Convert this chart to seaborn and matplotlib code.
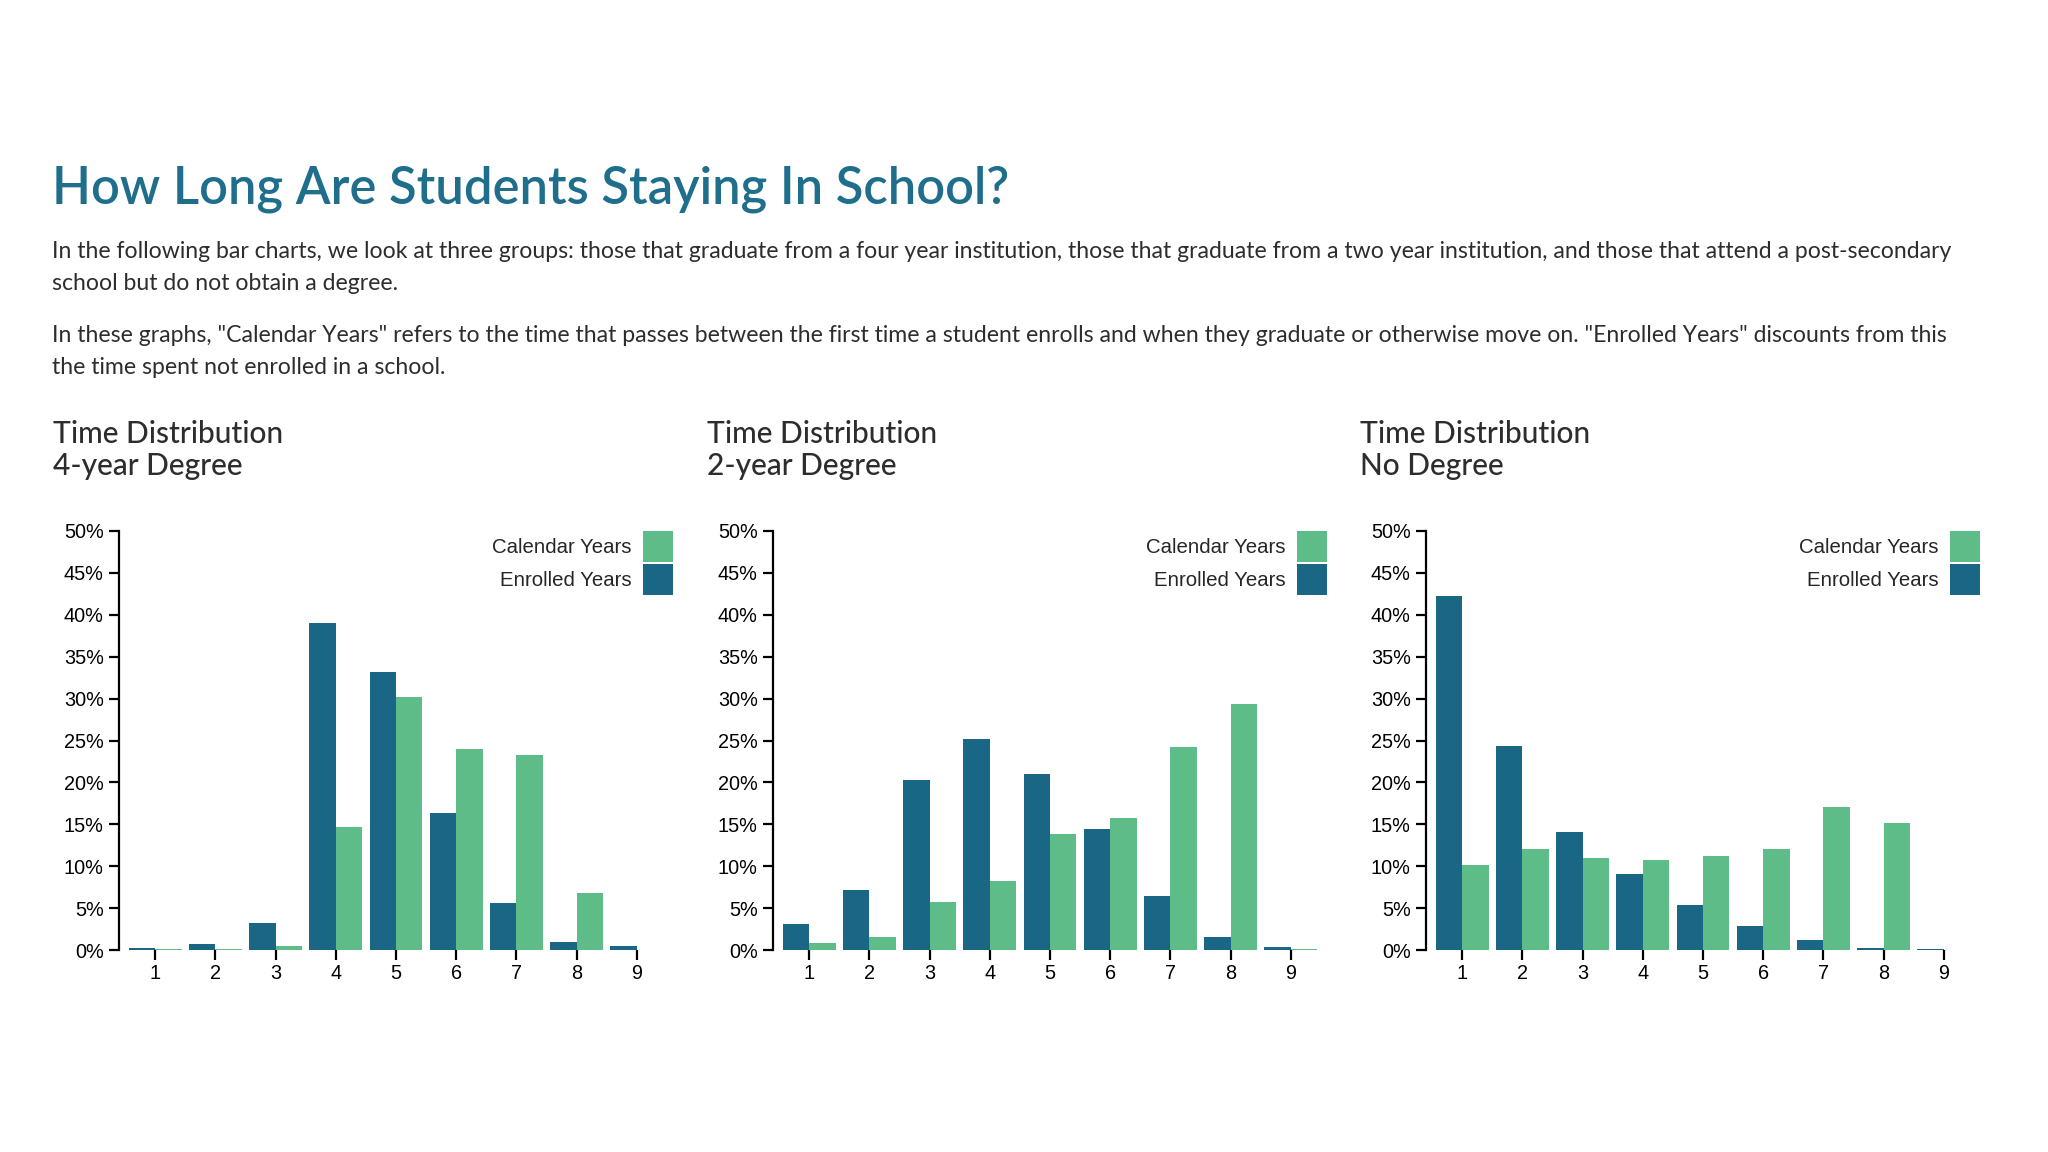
import matplotlib
matplotlib.use("Agg")
import matplotlib.pyplot as plt
from matplotlib.patches import Patch
import seaborn as sns
import pandas as pd

# ---------------- data ----------------
years = ["1", "2", "3", "4", "5", "6", "7", "8", "9"]
four_year_calendar = [0.1, 0.1, 0.5, 14.7, 30.2, 24.0, 23.3, 6.8, 0.0]
four_year_enrolled = [0.2, 0.7, 3.2, 39.0, 33.2, 16.4, 5.65, 0.9, 0.45]
two_year_calendar = [0.85, 1.55, 5.7, 8.2, 13.85, 15.7, 24.2, 29.4, 0.1]
two_year_enrolled = [3.1, 7.2, 20.3, 25.2, 21.05, 14.4, 6.5, 1.55, 0.3]
no_degree_calendar = [10.2, 12.1, 10.95, 10.75, 11.2, 12.1, 17.05, 15.1, 0.05]
no_degree_enrolled = [42.2, 24.3, 14.1, 9.1, 5.4, 2.9, 1.2, 0.25, 0.1]
chart_titles = ["Time Distribution\n4-year Degree",
                "Time Distribution\n2-year Degree",
                "Time Distribution\nNo Degree"]
series_names = ["Calendar Years", "Enrolled Years"]
y_ticks = [0, 5, 10, 15, 20, 25, 30, 35, 40, 45, 50]

title = "How Long Are Students Staying In School?"
para_lines = [
    "In the following bar charts, we look at three groups: those that graduate from a four year institution, those that graduate from a two year institution, and those that attend a post-secondary",
    "school but do not obtain a degree.",
    "In these graphs, \"Calendar Years\" refers to the time that passes between the first time a student enrolls and when they graduate or otherwise move on. \"Enrolled Years\" discounts from this",
    "the time spent not enrolled in a school.",
]

# ---------------- style ----------------
CAL_COLOR = "#5ebc89"
ENR_COLOR = "#1a6685"
TITLE_COLOR = "#1e6e8c"
TEXT_COLOR = "#2d2d2d"

sns.set_theme(style="white")
plt.rcParams["font.family"] = ["Liberation Sans", "DejaVu Sans"]

W, H = 2048, 1152
fig = plt.figure(figsize=(W / 100, H / 100), dpi=100, facecolor="white")

fig.text(52 / W, 1 - 189 / H, title, fontsize=36.5, color=TITLE_COLOR,
         family=["Lato", "DejaVu Sans"], fontweight="semibold",
         va="center", ha="left")
for y_px, line in zip([251, 284, 335, 367], para_lines):
    fig.text(52 / W, 1 - y_px / H, line, fontsize=16.6, color=TEXT_COLOR,
             family=["Lato", "DejaVu Sans"], va="center", ha="left")

datasets = [
    (four_year_calendar, four_year_enrolled),
    (two_year_calendar, two_year_enrolled),
    (no_degree_calendar, no_degree_enrolled),
]
lefts = [119, 773, 1426]
ax_w, ax_top, ax_bottom = 554, 531, 950

for left, (cal, enr), ctitle in zip(lefts, datasets, chart_titles):
    ax = fig.add_axes([left / W, 1 - ax_bottom / H, ax_w / W, (ax_bottom - ax_top) / H])
    df = pd.DataFrame({
        "year": years * 2,
        "pct": list(enr) + list(cal),
        "type": [series_names[1]] * len(years) + [series_names[0]] * len(years),
    })
    sns.barplot(data=df, x="year", y="pct", hue="type", order=years,
                hue_order=[series_names[1], series_names[0]],
                palette={series_names[0]: CAL_COLOR, series_names[1]: ENR_COLOR},
                width=0.88, linewidth=0, saturation=1, ax=ax, legend=False,
                errorbar=None)
    ax.set_xlim(-0.6, 8.6)
    ax.set_ylim(0, 50)
    ax.set_yticks(y_ticks)
    ax.set_yticklabels([f"{t}%" for t in y_ticks])
    ax.set_xlabel("")
    ax.set_ylabel("")
    ax.set_facecolor("none")
    for s in ["top", "right", "bottom"]:
        ax.spines[s].set_visible(False)
    ax.spines["left"].set_color("black")
    ax.spines["left"].set_linewidth(1.6)
    ax.tick_params(axis="both", which="major", direction="out", length=7,
                   width=1.6, color="black", labelsize=14.3, labelcolor="black",
                   left=True, bottom=True)
    ax.tick_params(axis="y", pad=4)
    ax.tick_params(axis="x", pad=3)

    handles = [Patch(facecolor=CAL_COLOR, edgecolor="none"),
               Patch(facecolor=ENR_COLOR, edgecolor="none")]
    ax.legend(handles, series_names, loc="upper right", bbox_to_anchor=(1, 1),
              frameon=False, markerfirst=False, handlelength=1.47,
              handleheight=1.95, handletextpad=0.55, labelspacing=0.1,
              borderpad=0, borderaxespad=0, fontsize=14.7)

    fig.text((left - 66) / W, 1 - 450 / H, ctitle, fontsize=21.5,
             color=TEXT_COLOR, family=["Lato", "DejaVu Sans"],
             fontweight="medium", va="center", ha="left", linespacing=1.2)

fig.savefig("out.png", dpi=100, facecolor="white")
